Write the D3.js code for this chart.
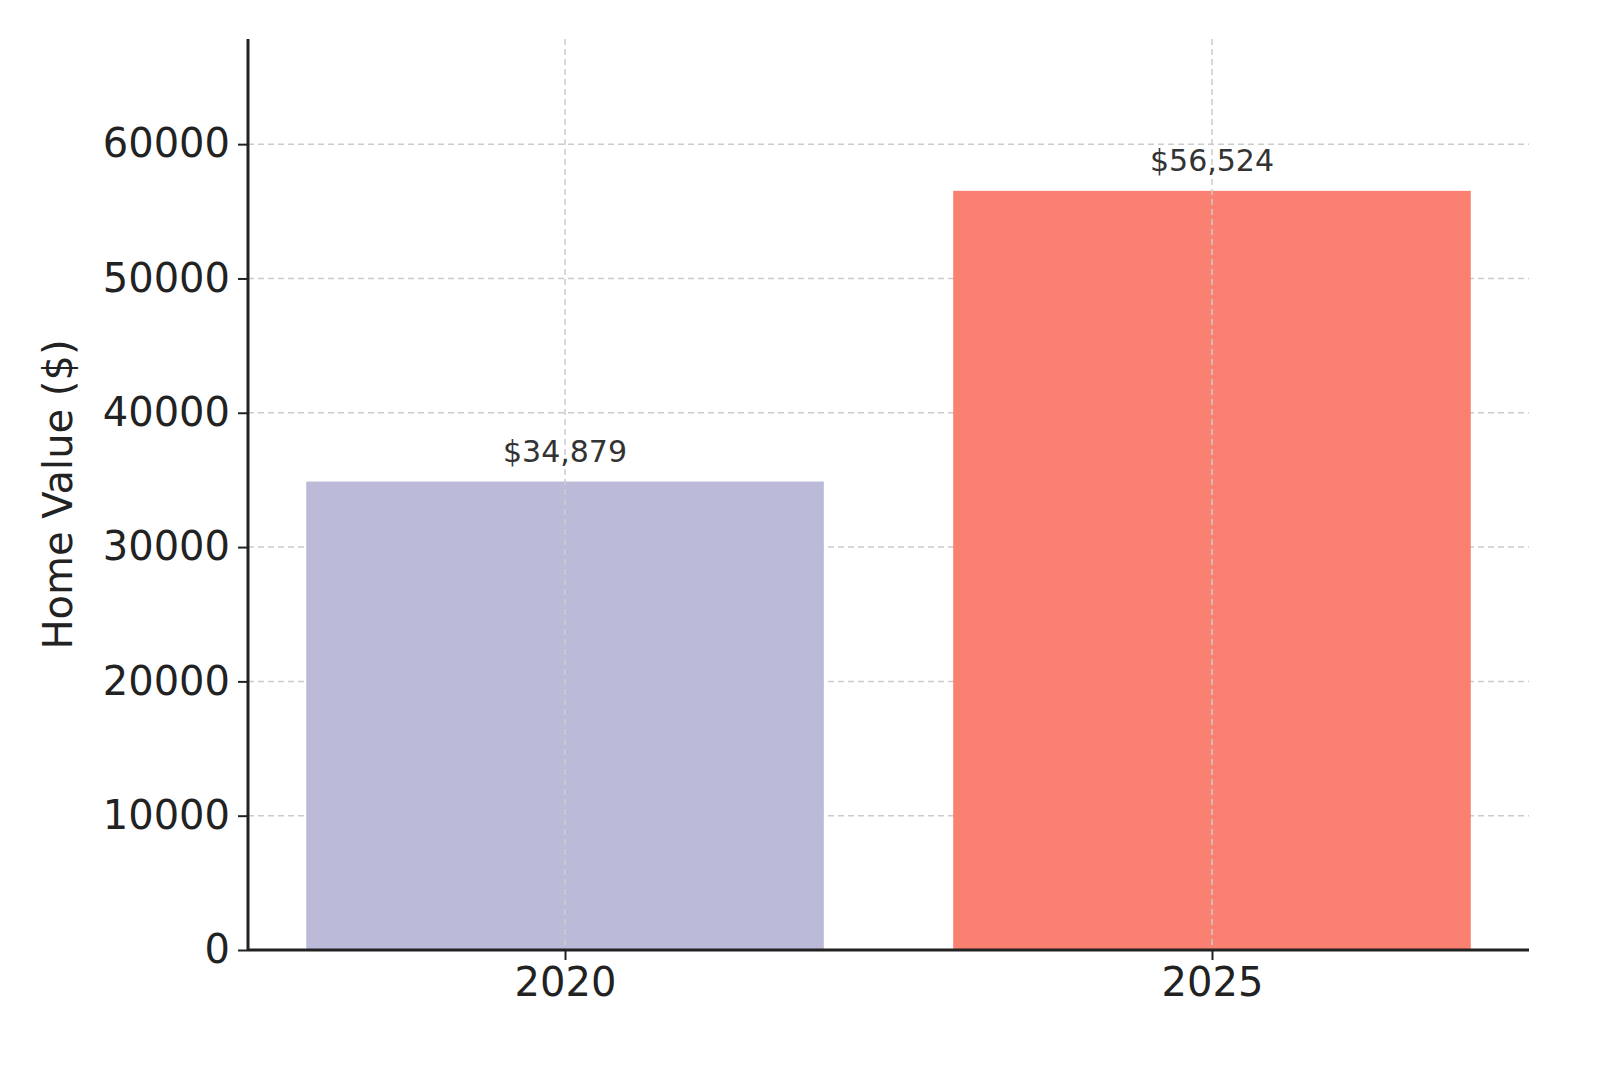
<!DOCTYPE html>
<html><head><meta charset="utf-8">
<script src="https://cdn.jsdelivr.net/npm/d3@7"></script>
<style>body{margin:0;background:#fff}svg{font-family:"DejaVu Sans",sans-serif;display:block}</style>
</head><body>
<script>
var years = ["2020", "2025"];
var values = [34879, 56524];
var colors = ["#bcbad9", "#fa8072"];
var yTicks = [0, 10000, 20000, 30000, 40000, 50000, 60000];

var w = 1600, h = 1067;
var plotL = 248, plotR = 1529, plotT = 39, plotB = 950;
var svg = d3.select("body").append("svg").attr("width", w).attr("height", h);

var y = d3.scaleLinear().domain([0, 56524 * 1.2]).range([plotB, plotT]);
var x = d3.scaleLinear().domain([-0.49, 1.49]).range([plotL, plotR]);
var bw = x(0.4) - x(0);

// grid
svg.selectAll("line.hg").data(yTicks).enter().append("line")
  .attr("x1", plotL).attr("x2", plotR)
  .attr("y1", function(d){return y(d);}).attr("y2", function(d){return y(d);})
  .attr("stroke", "#cccccc").attr("stroke-width", 1.5).attr("stroke-dasharray", "6,4");

svg.selectAll("rect.bar").data(values).enter().append("rect")
  .attr("x", function(d, i){return x(i) - bw;})
  .attr("width", bw * 2)
  .attr("y", function(d){return y(d);})
  .attr("height", function(d){return plotB - y(d);})
  .attr("fill", function(d, i){return colors[i];});

svg.selectAll("line.vg").data(years).enter().append("line")
  .attr("x1", function(d, i){return x(i);}).attr("x2", function(d, i){return x(i);})
  .attr("y1", plotT).attr("y2", plotB)
  .attr("stroke", "#cccccc").attr("stroke-width", 1.5).attr("stroke-dasharray", "6,4");

// value labels
svg.selectAll("text.val").data(values).enter().append("text")
  .attr("x", function(d, i){return x(i);})
  .attr("y", function(d){return y(d) - 20;})
  .attr("text-anchor", "middle").attr("font-size", 30).attr("fill", "#333")
  .text(function(d){return "$" + d3.format(",")(d);});

// axes
var yAxis = d3.axisLeft(y).tickValues(yTicks).tickFormat(d3.format("d")).tickSize(10).tickPadding(8);
var gy = svg.append("g").attr("transform", "translate(" + plotL + ",0)").call(yAxis);
var xAxis = d3.axisBottom(x).tickValues([0, 1]).tickFormat(function(d){return years[d];}).tickSize(10).tickPadding(8);
var gx = svg.append("g").attr("transform", "translate(0," + plotB + ")").call(xAxis);
[gx, gy].forEach(function(g){
  g.selectAll("path.domain").attr("stroke", "#222").attr("stroke-width", 3);
  g.selectAll(".tick line").attr("stroke", "#222").attr("stroke-width", 2);
  g.selectAll("text").attr("font-size", 40).attr("fill", "#222").attr("font-family", "DejaVu Sans");
});
gy.selectAll("path.domain").attr("d", "M0," + plotB + "V" + plotT);
gx.selectAll("path.domain").attr("d", "M" + plotL + ",0H" + plotR);

svg.append("text")
  .attr("transform", "translate(72," + ((plotT + plotB) / 2) + ") rotate(-90)")
  .attr("text-anchor", "middle").attr("font-size", 40).attr("fill", "#222")
  .text("Home Value ($)");
</script>
</body></html>
